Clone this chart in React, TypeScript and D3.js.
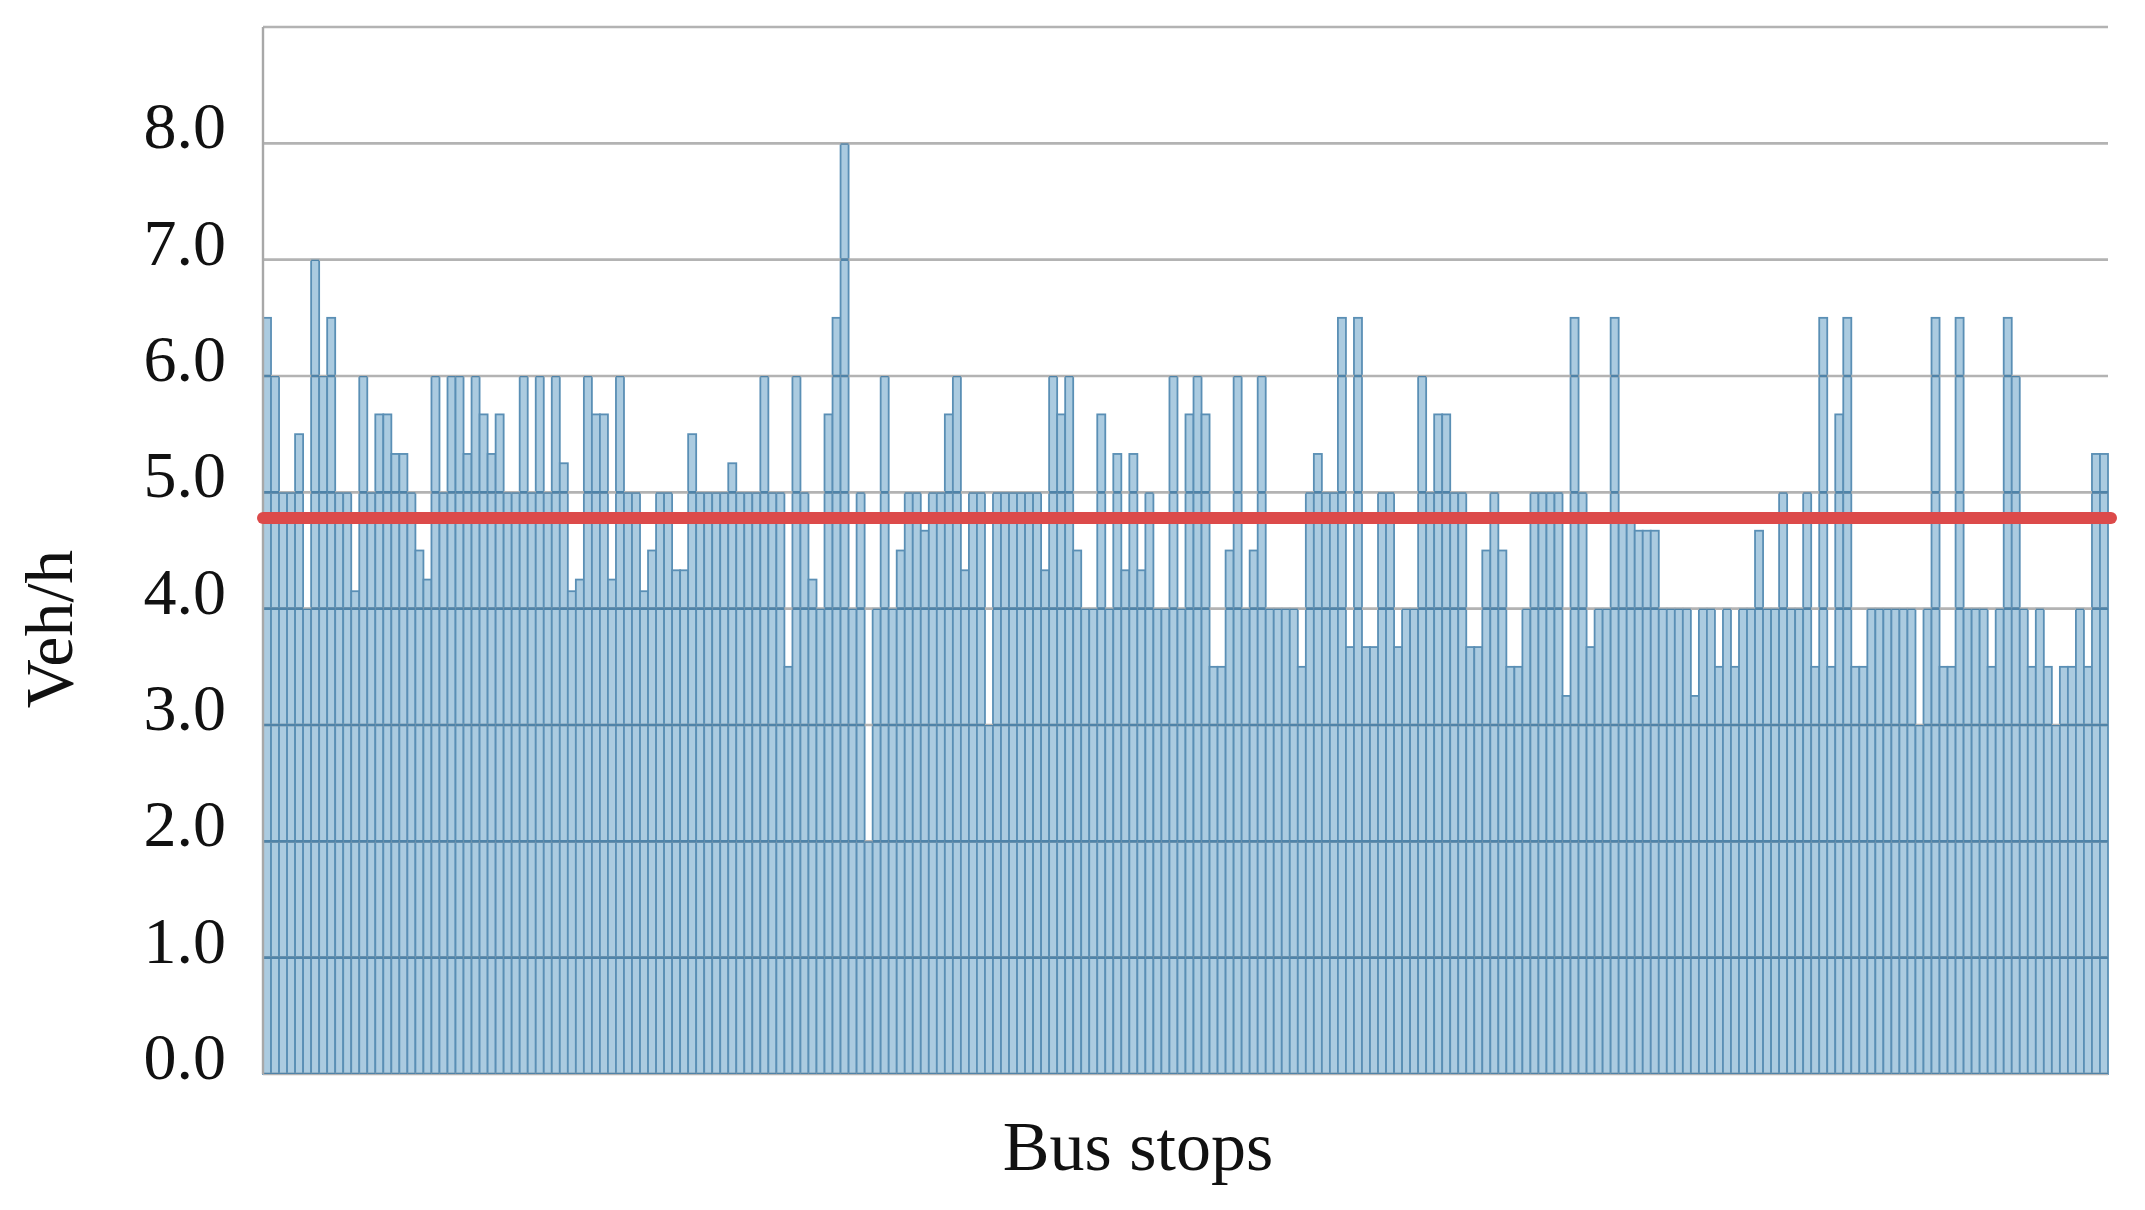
import React from "react";
import * as d3 from "d3";

// Vehicle frequency per bus stop (veh/h)
const stopValues: number[] = [
  6.5, 6.0, 5.0, 5.0, 5.5, 4.0, 7.0, 6.0, 6.5, 5.0,
  5.0, 4.15, 6.0, 5.0, 5.67, 5.67, 5.33, 5.33, 5.0, 4.5,
  4.25, 6.0, 5.0, 6.0, 6.0, 5.33, 6.0, 5.67, 5.33, 5.67,
  5.0, 5.0, 6.0, 5.0, 6.0, 5.0, 6.0, 5.25, 4.15, 4.25,
  6.0, 5.67, 5.67, 4.25, 6.0, 5.0, 5.0, 4.15, 4.5, 5.0,
  5.0, 4.33, 4.33, 5.5, 5.0, 5.0, 5.0, 5.0, 5.25, 5.0,
  5.0, 5.0, 6.0, 5.0, 5.0, 3.5, 6.0, 5.0, 4.25, 4.0,
  5.67, 6.5, 8.0, 4.0, 5.0, 2.0, 4.0, 6.0, 4.0, 4.5,
  5.0, 5.0, 4.67, 5.0, 5.0, 5.67, 6.0, 4.33, 5.0, 5.0,
  3.0, 5.0, 5.0, 5.0, 5.0, 5.0, 5.0, 4.33, 6.0, 5.67,
  6.0, 4.5, 4.0, 4.0, 5.67, 4.0, 5.33, 4.33, 5.33, 4.33,
  5.0, 4.0, 4.0, 6.0, 4.0, 5.67, 6.0, 5.67, 3.5, 3.5,
  4.5, 6.0, 4.0, 4.5, 6.0, 4.0, 4.0, 4.0, 4.0, 3.5,
  5.0, 5.33, 5.0, 5.0, 6.5, 3.67, 6.5, 3.67, 3.67, 5.0,
  5.0, 3.67, 4.0, 4.0, 6.0, 5.0, 5.67, 5.67, 5.0, 5.0,
  3.67, 3.67, 4.5, 5.0, 4.5, 3.5, 3.5, 4.0, 5.0, 5.0,
  5.0, 5.0, 3.25, 6.5, 5.0, 3.67, 4.0, 4.0, 6.5, 4.75,
  4.75, 4.67, 4.67, 4.67, 4.0, 4.0, 4.0, 4.0, 3.25, 4.0,
  4.0, 3.5, 4.0, 3.5, 4.0, 4.0, 4.67, 4.0, 4.0, 5.0,
  4.0, 4.0, 5.0, 3.5, 6.5, 3.5, 5.67, 6.5, 3.5, 3.5,
  4.0, 4.0, 4.0, 4.0, 4.0, 4.0, 3.0, 4.0, 6.5, 3.5,
  3.5, 6.5, 4.0, 4.0, 4.0, 3.5, 4.0, 6.5, 6.0, 4.0,
  3.5, 4.0, 3.5, 3.0, 3.5, 3.5, 4.0, 3.5, 5.33, 5.33,
];

const averageValue = 4.78;
const yTickValues: number[] = [0, 1, 2, 3, 4, 5, 6, 7, 8];
const yTickLabels: string[] = ["0.0", "1.0", "2.0", "3.0", "4.0", "5.0", "6.0", "7.0", "8.0"];
const gridValues: number[] = [0, 1, 2, 3, 4, 5, 6, 7, 8, 9];
const xTitle = "Bus stops";
const yTitle = "Veh/h";

const W = 2145;
const H = 1210;
const left = 263;
const right = 2108;
const top = 27;
const bottom = 1074;

export default function App() {
  const indices = stopValues.map((_, i) => i);
  const x = d3.scaleBand<number>().domain(indices).range([left, right]).padding(0);
  const y = d3.scaleLinear().domain([0, 9]).range([bottom, top]);
  const font = "'Liberation Serif', 'Times New Roman', serif";

  return (
    <div style={{ position: "fixed", left: 0, top: 0, width: W, height: H, background: "#fff" }}>
      <svg width={W} height={H} style={{ display: "block" }}>
        <defs>
          <clipPath id="barsClip">
            {stopValues.map((v, i) => (
              <rect key={i} x={x(i)!} y={y(v)} width={x.bandwidth()} height={bottom - y(v)} />
            ))}
          </clipPath>
        </defs>
        <rect x={0} y={0} width={W} height={H} fill="#ffffff" />
        {/* bars */}
        <g>
          {stopValues.map((v, i) => (
            <rect
              key={i}
              x={x(i)!}
              y={y(v)}
              width={x.bandwidth()}
              height={bottom - y(v)}
              fill="#abcbe0"
              stroke="#5a8fb5"
              strokeWidth={1.8}
            />
          ))}
        </g>
        {/* gridlines (gray over white) */}
        <g>
          {gridValues.map((g) => (
            <line key={g} x1={left} x2={right} y1={y(g)} y2={y(g)} stroke="#b3b3b3" strokeWidth={2.6} />
          ))}
        </g>
        {/* gridlines where they cross the bars */}
        <g clipPath="url(#barsClip)">
          {gridValues.map((g) => (
            <line key={g} x1={left} x2={right} y1={y(g)} y2={y(g)} stroke="#4f83a8" strokeWidth={2.6} />
          ))}
        </g>
        {/* left axis line */}
        <line x1={left} x2={left} y1={top} y2={bottom} stroke="#a8a8a8" strokeWidth={2.4} />
        {/* average line */}
        <line
          x1={left}
          x2={right + 3}
          y1={y(averageValue)}
          y2={y(averageValue)}
          stroke="#dc4a4a"
          strokeWidth={12}
          strokeLinecap="round"
        />
        {/* y tick labels */}
        <g fontFamily={font} fontSize={66} fill="#111">
          {yTickValues.map((t, i) => (
            <text key={t} x={226} y={y(t) + 5} textAnchor="end">
              {yTickLabels[i]}
            </text>
          ))}
        </g>
        <text
          x={1138}
          y={1170}
          textAnchor="middle"
          fontFamily={font}
          fontSize={70}
          fill="#111"
        >
          {xTitle}
        </text>
        <text
          transform={`translate(72, 629) rotate(-90)`}
          textAnchor="middle"
          fontFamily={font}
          fontSize={68}
          fill="#111"
        >
          {yTitle}
        </text>
      </svg>
    </div>
  );
}
